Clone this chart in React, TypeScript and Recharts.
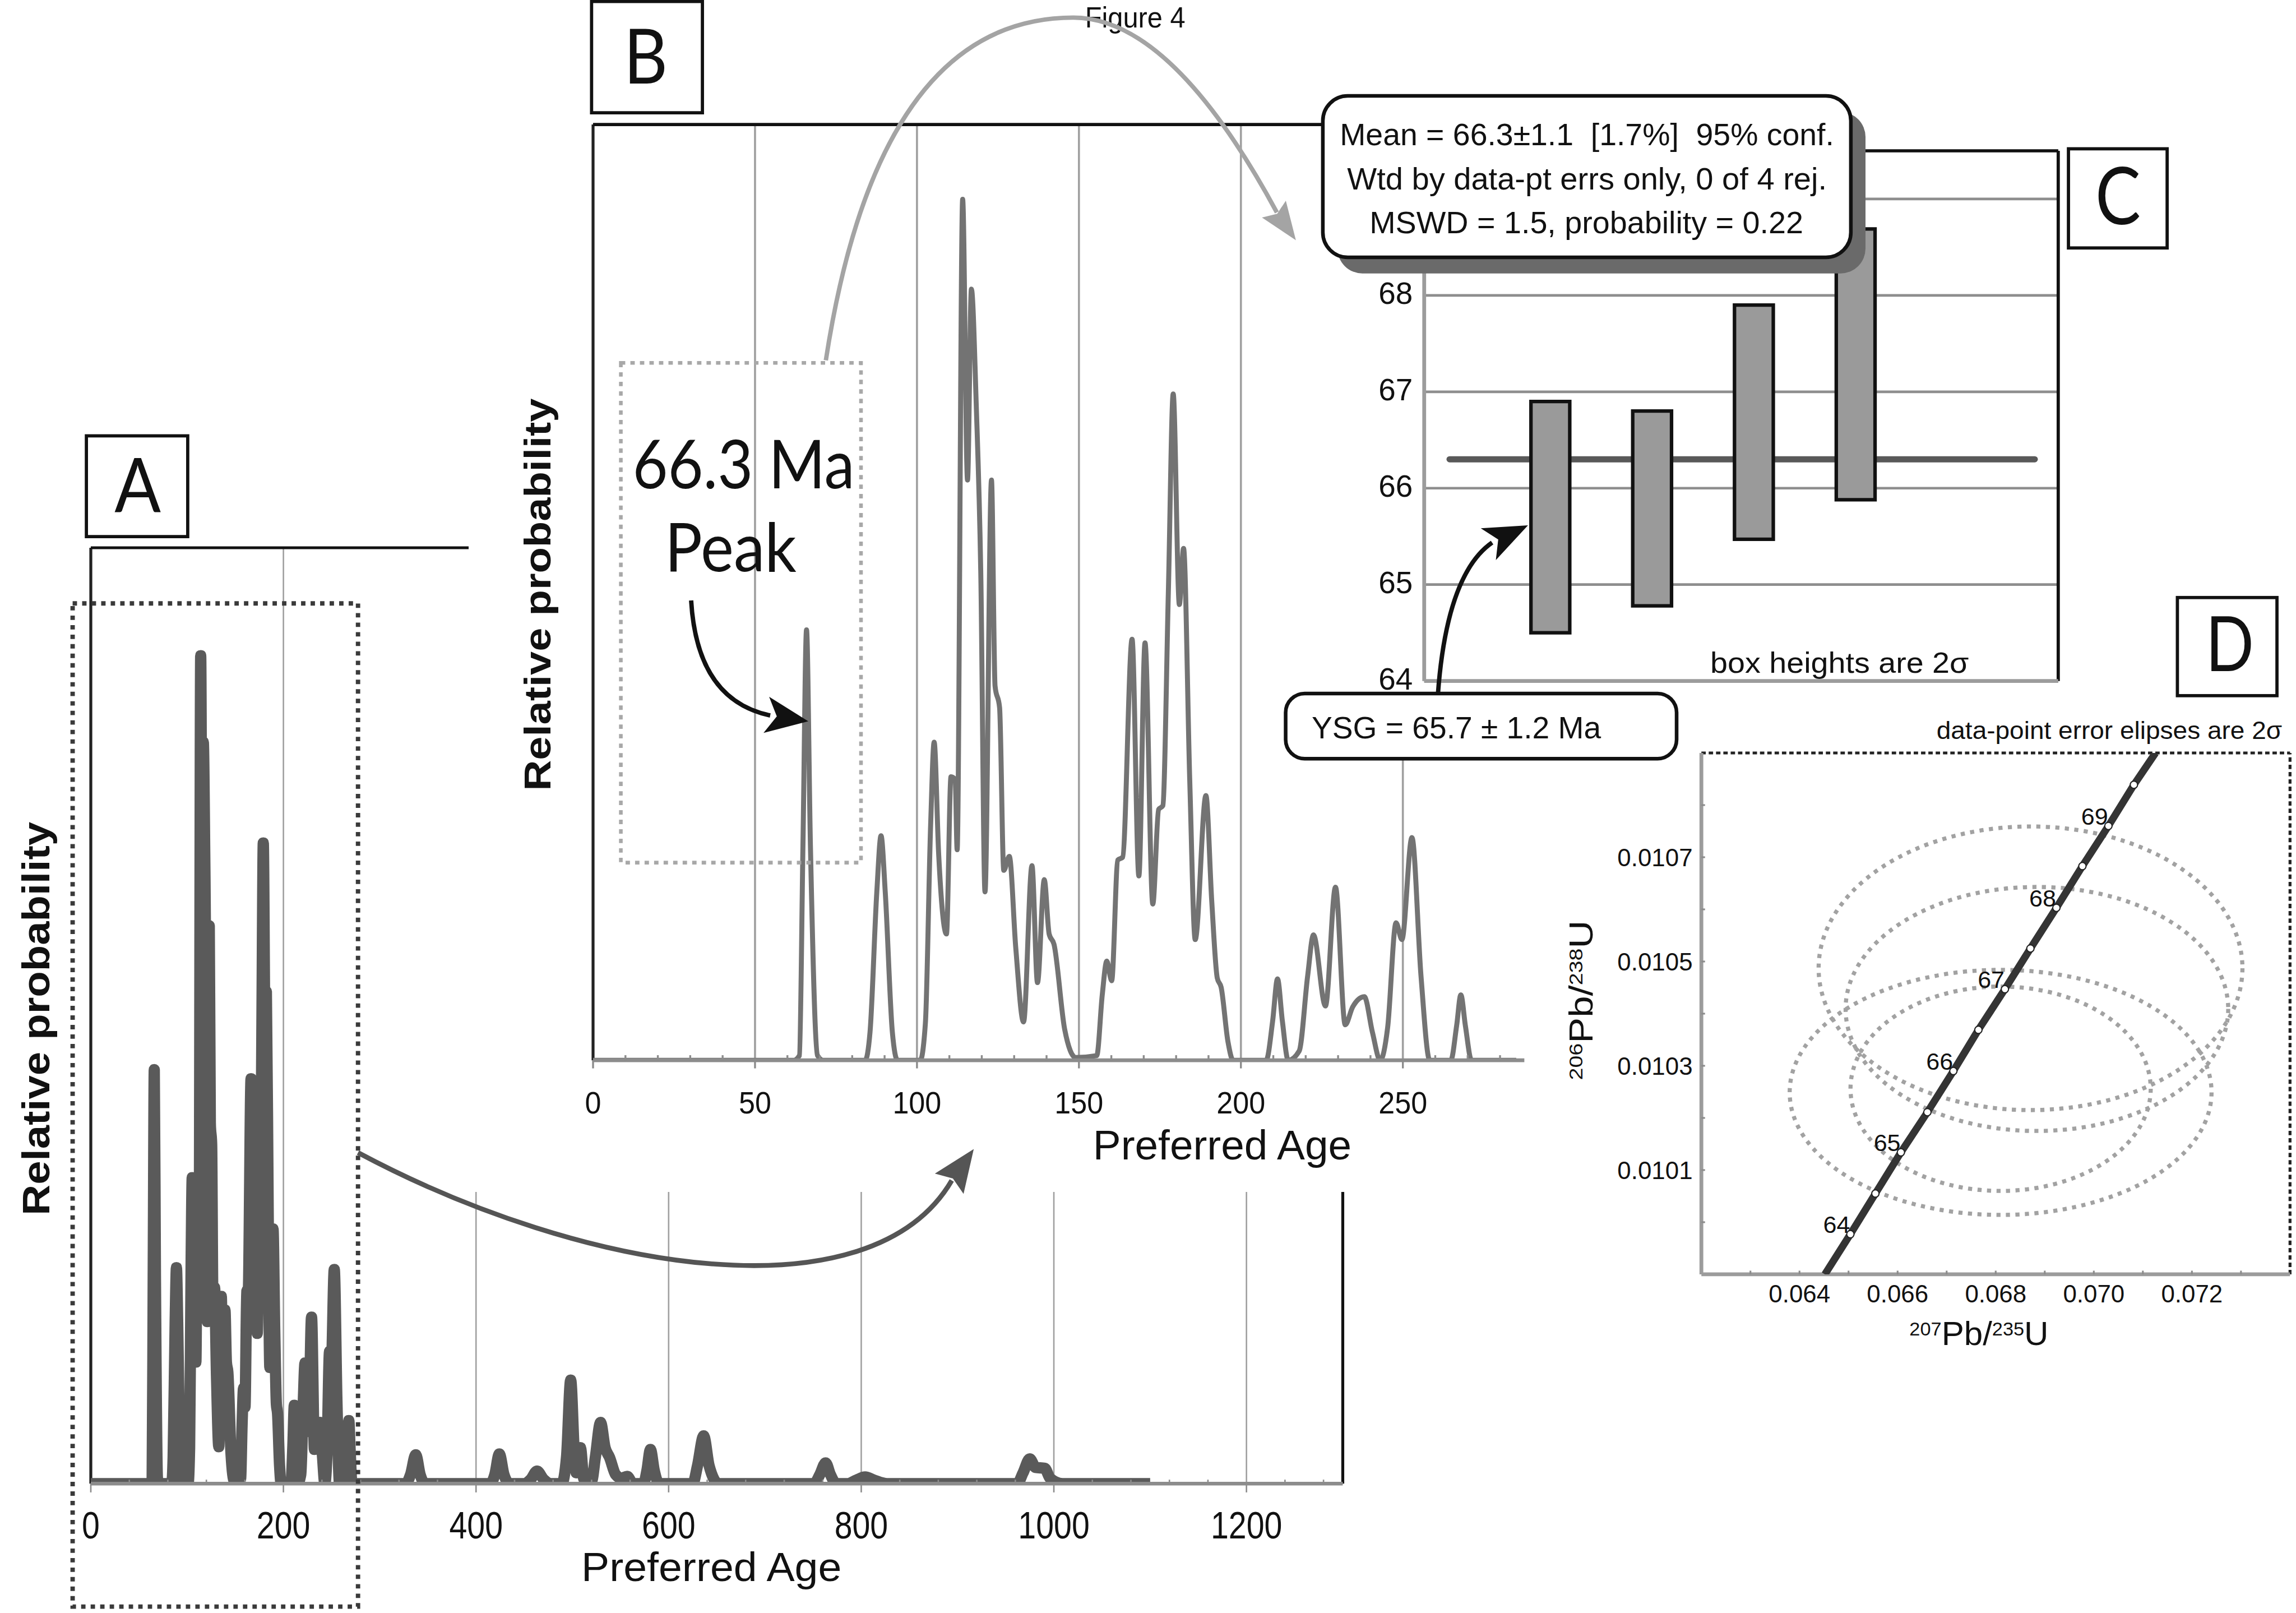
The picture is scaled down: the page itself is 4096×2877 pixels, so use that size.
import React from "react";
import {
  LineChart,
  Line,
  XAxis,
  YAxis,
  ReferenceLine,
  BarChart,
  Bar,
  ComposedChart,
  Scatter,
  CartesianGrid,
} from "recharts";

// layout is measured on the 1568 px wide preview, s() scales it to the window
const S = 4096 / 1568;
const s = (v: number) => v * S;
const SANS = "'Liberation Sans', Arial, Helvetica, sans-serif";
const HUM = "Lato, 'Open Sans', sans-serif";
const AXIS_GRAY = "#8c8c8c";
const GRID_GRAY = "#a0a0a0";

// ---------- data ----------
// probability density, 0-285 Ma (100 = top of panel B)
const youngAge = [
  0, 62, 63.7, 64.8, 65.9, 67.1, 69.3, 71,
  84, 85.5, 87.6, 88.9, 90.2, 92.4, 94,
  101, 102.6, 104.2, 105.3, 106.7, 109.1, 110.5, 111.8, 112.4, 114.1,
  115.6, 116.8, 118.3, 119.7, 121, 123, 124.1, 125.5, 126.8, 128.5,
  130.5, 132.9, 135.5, 137.2, 139.3, 140.8, 142.3, 145.6, 149, 155.5,
  157.2, 158.6, 160.1, 162, 163.5, 166.4, 168.5, 170.4, 172.8, 174.6,
  175.9, 177.6, 179.1, 181, 182.3, 184.2, 185.9, 189.2, 191, 192.7,
  193.9, 196, 197.6, 207.8, 209.8, 211.3, 212.8, 214.6, 218, 220.6,
  222.4, 226.1, 229.2, 232.2, 234.5, 238.1, 240.6, 243, 245.3, 247.9,
  249.7, 252.8, 255.6, 258.3, 264.8, 266.6, 267.9, 269.3, 271.2, 285,
];
const youngProb = [
  0, 0, 0.5, 23, 46, 23, 0.5, 0,
  0, 3, 18, 24, 18, 3, 0,
  0, 4, 25, 34, 22, 13.5, 30.3, 30, 22.5, 92,
  62, 82.4, 70, 52, 18, 62, 40, 37.7, 20.3, 21.8,
  12, 4.1, 20.8, 8.3, 19.3, 13.5, 12.4, 3.3, 0.3, 0.5,
  7, 10.6, 8.5, 21.4, 21.7, 45, 19.7, 44.6, 16.7, 26.8,
  27.2, 50, 71.2, 48.7, 54.7, 30, 12.9, 28.3, 17, 8.8,
  7.8, 2, 0, 0, 4.2, 8.7, 4.2, 0, 1, 9,
  13.4, 5.8, 18.5, 3.8, 5.7, 6.8, 3, 0, 3.5, 14.7,
  12.9, 23.8, 9, 0, 0, 3.7, 7, 3.7, 0, 0,
];
// older tail only shown in panel A
const oldAge = [
  327, 332, 337.4, 342, 347, 415, 419.5, 424.2, 429, 435,
  450, 457, 463.3, 470, 478, 489, 494, 498.3, 502, 504, 508.4, 512,
  520, 524, 529.3, 534, 538.7, 545, 551, 557, 563,
  574, 577.5, 581.1, 585, 590, 625, 630, 636.4, 642, 652,
  751, 757, 763, 768, 774, 786, 795, 804, 813, 827,
  962, 968, 975, 981, 990.6, 996, 1009, 1100,
];
const oldProb = [
  0, 1, 3.2, 1, 0, 0, 1, 3.3, 1, 0,
  0, 0.5, 1.4, 0.5, 0, 0, 3, 11.5, 3.5, 1.2, 4, 0.5,
  0.3, 3, 6.8, 4, 2.9, 1, 0.6, 0.8, 0,
  0, 1.5, 3.8, 1.5, 0, 0, 2, 5.3, 2, 0,
  0, 1, 2.3, 1, 0, 0, 0.4, 0.74, 0.4, 0,
  0, 1.2, 2.75, 1.8, 1.7, 0.6, 0, 0,
];

const aTickLabels = [0, 200, 400, 600, 800, 1000, 1200];
const aTicks = Array.from({ length: 33 }, (_, i) => i * 40);
const bTickLabels = [0, 50, 100, 150, 200, 250];
const bTicks = Array.from({ length: 29 }, (_, i) => i * 10);

// panel C: youngest grains, 2 sigma boxes
const cGrain = ["1", "2", "3", "4"];
const cLow = [64.5, 64.78, 65.47, 65.88];
const cHigh = [66.9, 66.8, 67.9, 68.69];
const cTicks = [64, 65, 66, 67, 68, 69];
const cTickLabels = [64, 65, 66, 67, 68]; // 69 sits under the mean box
const meanAge = 66.3;

// panel D: concordia
const concAge = [64, 64.5, 65, 65.5, 66, 66.5, 67, 67.5, 68, 68.5, 69, 69.5];
const concX = [0.06504, 0.06555, 0.06607, 0.06661, 0.06714, 0.06765, 0.06819, 0.06871, 0.06924, 0.06977, 0.0703, 0.07082];
const concY = [0.009977, 0.010055, 0.010134, 0.010211, 0.01029, 0.010369, 0.010447, 0.010525, 0.010603, 0.010683, 0.01076, 0.010839];
const concEndX = [0.06452, 0.07126];
const concEndY = [0.0099, 0.0109];
const ellX = [0.06871, 0.06884, 0.0681, 0.0681];
const ellY = [0.010487, 0.010409, 0.010249, 0.010256];
const ellRx = [0.00432, 0.0039, 0.0043, 0.00306];
const ellRy = [0.000272, 0.000234, 0.000235, 0.000196];
const dXTicks = [0.063, 0.064, 0.065, 0.066, 0.067, 0.068, 0.069, 0.07, 0.071, 0.072, 0.073];
const dXLabels = [0.064, 0.066, 0.068, 0.07, 0.072];
const dYTicks = [0.01, 0.0101, 0.0102, 0.0103, 0.0104, 0.0105, 0.0106, 0.0107, 0.0108];
const dYLabels = [0.0101, 0.0103, 0.0105, 0.0107];

// ---------- tables ----------
const youngRows = youngAge.map((age, i) => ({ age, prob: youngProb[i] }));
const aData = [...youngRows, ...oldAge.map((age, i) => ({ age, prob: oldProb[i] }))];
const bData = youngRows;
const cTable = cGrain.map((grain, i) => ({ grain, range: [cLow[i], cHigh[i]] }));
const meanSeg = [
  { mx: 0.04, y: meanAge },
  { mx: 0.963, y: meanAge },
];
const concTable = [
  { x: concEndX[0], y: concEndY[0], age: null as number | null },
  ...concAge.map((age, i) => ({ x: concX[i], y: concY[i], age })),
  { x: concEndX[1], y: concEndY[1], age: null as number | null },
];
const ellTable = ellX.map((x, i) => ({ x, y: ellY[i], rx: ellRx[i], ry: ellRy[i] }));

const D_DOM_X: [number, number] = [0.062, 0.074];
const D_DOM_Y: [number, number] = [0.0099, 0.0109];

// ---------- helpers ----------
const P = 40;
function place(px: number, py: number, pw: number, ph: number, axL = 0, axB = 0) {
  return {
    style: { position: "absolute" as const, left: s(px) - axL - P, top: s(py) - P },
    width: s(pw) + axL + 2 * P,
    height: s(ph) + axB + 2 * P,
    margin: { top: P, right: P, bottom: P, left: P },
  };
}

const near = (list: number[], v: number) => list.some((l) => Math.abs(l - v) < 1e-7);

const aTick = (p: any) => {
  const v = p.payload.value;
  const { x, y } = p;
  if (aTickLabels.includes(v)) {
    return (
      <g>
        <line x1={x} x2={x} y1={y} y2={y + s(6)} stroke={AXIS_GRAY} strokeWidth={s(1)} />
        <text x={x} y={y + s(37.5)} textAnchor="middle" fontSize={s(26)} fontFamily={SANS} fill="#111"
          textLength={s(12.2 * String(v).length)} lengthAdjust="spacingAndGlyphs">{v}</text>
      </g>
    );
  }
  return <line x1={x} x2={x} y1={y} y2={y - s(2.7)} stroke={AXIS_GRAY} strokeWidth={s(1)} />;
};

const bTick = (p: any) => {
  const v = p.payload.value;
  const { x, y } = p;
  if (bTickLabels.includes(v)) {
    return (
      <g>
        <line x1={x} x2={x} y1={y} y2={y + s(5.5)} stroke={AXIS_GRAY} strokeWidth={s(1.3)} />
        <text x={x} y={y + s(36.3)} textAnchor="middle" fontSize={s(21.6)} fontFamily={SANS} fill="#111"
          textLength={s(11.1 * String(v).length)} lengthAdjust="spacingAndGlyphs">{v}</text>
      </g>
    );
  }
  return <line x1={x} x2={x} y1={y} y2={y - s(3.5)} stroke={AXIS_GRAY} strokeWidth={s(1.3)} />;
};

const cTick = (p: any) =>
  cTickLabels.includes(p.payload.value) ? (
    <text x={p.x - s(7.8)} y={p.y + s(5.9)} textAnchor="end" fontSize={s(21)} fontFamily={SANS} fill="#111">
      {p.payload.value}
    </text>
  ) : (
    <g />
  );

const dXTick = (p: any) => {
  const v = p.payload.value;
  return (
    <g>
      <line x1={p.x} x2={p.x} y1={p.y} y2={p.y - s(2.5)} stroke={AXIS_GRAY} strokeWidth={s(1.2)} />
      {near(dXLabels, v) && (
        <text x={p.x} y={p.y + s(19)} textAnchor="middle" fontSize={s(16.8)} fontFamily={SANS} fill="#111">
          {v.toFixed(3)}
        </text>
      )}
    </g>
  );
};

const dYTick = (p: any) => {
  const v = p.payload.value;
  return (
    <g>
      <line x1={p.x} x2={p.x + s(2.5)} y1={p.y} y2={p.y} stroke={AXIS_GRAY} strokeWidth={s(1.2)} />
      {near(dYLabels, v) && (
        <text x={p.x - s(6)} y={p.y + s(6)} textAnchor="end" fontSize={s(16.8)} fontFamily={SANS} fill="#111">
          {v.toFixed(4)}
        </text>
      )}
    </g>
  );
};

// px per data unit inside panel D's plot
const D_PX_X = s(402) / (D_DOM_X[1] - D_DOM_X[0]);
const D_PX_Y = s(356) / (D_DOM_Y[1] - D_DOM_Y[0]);

const EllipseShape = (p: any) => (
  <ellipse
    cx={p.cx}
    cy={p.cy}
    rx={p.payload.rx * D_PX_X}
    ry={p.payload.ry * D_PX_Y}
    fill="none"
    stroke="#a2a2a2"
    strokeWidth={s(2.8)}
    strokeDasharray={`${s(2.8)} ${s(3.7)}`}
  />
);

const concDot = (p: any) => {
  const { cx, cy, payload, index } = p;
  if (payload.age == null) return <g key={`cd${index}`} />;
  return (
    <g key={`cd${index}`}>
      <circle cx={cx} cy={cy} r={s(2.5)} fill="#fff" stroke="#222" strokeWidth={s(0.8)} />
      {Number.isInteger(payload.age) && (
        <text x={cx - s(9.4)} y={cy - s(0.9)} textAnchor="middle" fontSize={s(16.5)} fontFamily={SANS} fill="#111">
          {payload.age}
        </text>
      )}
    </g>
  );
};

function head(tx: number, ty: number, deg: number, len: number, hw: number, notch = 0.2) {
  const a = (deg * Math.PI) / 180;
  const ux = Math.cos(a), uy = Math.sin(a);
  const nx = -uy, ny = ux;
  const bx = tx - len * ux, by = ty - len * uy;
  const mx = bx + notch * len * ux, my = by + notch * len * uy;
  return `M${s(tx)},${s(ty)} L${s(bx + hw * nx)},${s(by + hw * ny)} L${s(mx)},${s(my)} L${s(bx - hw * nx)},${s(by - hw * ny)} Z`;
}

const pth = (d: string) =>
  d.replace(/-?\d+(\.\d+)?/g, (m) => String(s(parseFloat(m))));

function Txt(props: {
  x: number; y: number; size: number; len?: number; children: React.ReactNode;
  anchor?: "start" | "middle" | "end"; family?: string; weight?: string | number; fill?: string;
}) {
  const { x, y, size, len, children, anchor = "start", family = SANS, weight = "normal", fill = "#111" } = props;
  return (
    <text x={s(x)} y={s(y)} fontSize={s(size)} fontFamily={family} fontWeight={weight} textAnchor={anchor}
      fill={fill} textLength={len ? s(len) : undefined} lengthAdjust={len ? "spacingAndGlyphs" : undefined}
      style={{ whiteSpace: "pre" }}>
      {children}
    </text>
  );
}

function LetterBox(props: { x0: number; y0: number; x1: number; y1: number; letter: string; cx: number; base: number; size: number; len: number }) {
  const { x0, y0, x1, y1, letter, cx, base, size, len } = props;
  return (
    <g>
      <rect x={s(x0)} y={s(y0)} width={s(x1 - x0)} height={s(y1 - y0)} fill="#fff" stroke="#111" strokeWidth={s(2.2)} />
      <Txt x={cx} y={base} size={size} len={len} anchor="middle" family={HUM}>{letter}</Txt>
    </g>
  );
}

export default function App() {
  const a = place(62, 374, 855, 639, 0, s(60));
  const b = place(405, 85, 636, 639, 0, s(60));
  const cU = place(972.5, 103, 433, 362, s(60), 0);
  const cO = place(972.5, 103, 433, 362, 0, 0);
  const dU = place(1162, 514, 402, 356, s(100), s(60));
  const dO = place(1162, 514, 402, 356, 0, 0);

  return (
    <div style={{ position: "absolute", left: 0, top: 0, width: 4096, height: 2877, overflow: "hidden", background: "#fff" }}>
      {/* Panel A */}
      <div style={a.style}>
        <LineChart width={a.width} height={a.height} data={aData} margin={a.margin}>
          <XAxis type="number" dataKey="age" domain={[0, 1300]} ticks={aTicks} interval={0} allowDataOverflow
            tick={aTick} tickLine={false} tickSize={0} tickMargin={0} height={s(60)}
            axisLine={{ stroke: AXIS_GRAY, strokeWidth: s(2.5) }} />
          <YAxis hide type="number" domain={[0, 104]} allowDataOverflow />
          {aTickLabels.filter((v) => v > 0).map((v) => (
            <ReferenceLine key={v} x={v} stroke={GRID_GRAY} strokeWidth={s(1)} />
          ))}
          <ReferenceLine x={0} stroke="#222" strokeWidth={s(2)} />
          <ReferenceLine x={1300} stroke="#111" strokeWidth={s(2)} />
          <ReferenceLine y={104} stroke="#111" strokeWidth={s(2)} />
          <Line type="monotone" dataKey="prob" stroke="#5a5a5a" strokeWidth={s(7.7)} strokeLinejoin="round"
            dot={false} activeDot={false} isAnimationActive={false} />
        </LineChart>
      </div>

      {/* Panel B */}
      <div style={{ position: "absolute", left: s(320), top: 0, width: s(725), height: s(814), background: "#fff" }} />
      <div style={b.style}>
        <LineChart width={b.width} height={b.height} data={bData} margin={b.margin}>
          <XAxis type="number" dataKey="age" domain={[0, 287.5]} ticks={bTicks} interval={0} allowDataOverflow
            tick={bTick} tickLine={false} tickSize={0} tickMargin={0} height={s(60)}
            axisLine={{ stroke: AXIS_GRAY, strokeWidth: s(2.6) }} />
          <YAxis hide type="number" domain={[0, 100]} allowDataOverflow />
          {bTickLabels.filter((v) => v > 0).map((v) => (
            <ReferenceLine key={v} x={v} stroke={GRID_GRAY} strokeWidth={s(1.4)} />
          ))}
          <ReferenceLine x={0} stroke="#222" strokeWidth={s(2)} />
          <ReferenceLine y={100} stroke="#111" strokeWidth={s(2.2)} />
          <Line type="monotone" dataKey="prob" stroke="#737373" strokeWidth={s(3.4)} strokeLinejoin="round"
            dot={false} activeDot={false} isAnimationActive={false} />
        </LineChart>
      </div>

      {/* Panel C */}
      <div style={{ position: "absolute", left: s(925), top: s(90), width: s(485), height: s(385), background: "#fff" }} />
      <div style={cU.style}>
        <ComposedChart width={cU.width} height={cU.height} data={meanSeg} margin={cU.margin}>
          <CartesianGrid horizontal vertical={false} stroke="#8e8e8e" strokeWidth={s(1.8)} />
          <XAxis hide type="number" dataKey="mx" domain={[0, 1]} allowDataOverflow />
          <YAxis type="number" domain={[64, 69.5]} ticks={cTicks} interval={0} allowDataOverflow width={s(60)}
            tick={cTick} tickLine={false} tickSize={0} tickMargin={0}
            axisLine={{ stroke: "#9c9c9c", strokeWidth: s(2.6) }} />
          <ReferenceLine y={69.5} stroke="#111" strokeWidth={s(2.2)} />
          <ReferenceLine x={1} stroke="#111" strokeWidth={s(2.2)} />
          <ReferenceLine y={64} stroke="#9c9c9c" strokeWidth={s(2.6)} />
          <Line type="linear" dataKey="y" stroke="#595959" strokeWidth={s(4.2)} strokeLinecap="round"
            dot={false} activeDot={false} isAnimationActive={false} />
        </ComposedChart>
      </div>
      <div style={cO.style}>
        <BarChart width={cO.width} height={cO.height} data={cTable} margin={cO.margin}>
          <XAxis hide type="category" dataKey="grain" padding={{ left: s(51.75), right: s(103.25) }} />
          <YAxis hide type="number" domain={[64, 69.5]} allowDataOverflow />
          <Bar dataKey="range" fill="#9a9a9a" stroke="#111" strokeWidth={s(2.4)} barSize={s(26.5)}
            isAnimationActive={false} />
        </BarChart>
      </div>

      {/* Panel D */}
      <div style={dU.style}>
        <ComposedChart width={dU.width} height={dU.height} data={ellTable} margin={dU.margin}>
          <XAxis type="number" dataKey="x" domain={D_DOM_X} ticks={dXTicks} interval={0} allowDataOverflow
            tick={dXTick} tickLine={false} tickSize={0} tickMargin={0} height={s(60)}
            axisLine={{ stroke: "#9c9c9c", strokeWidth: s(2.6) }} />
          <YAxis type="number" dataKey="y" domain={D_DOM_Y} ticks={dYTicks} interval={0} allowDataOverflow
            width={s(100)} tick={dYTick} tickLine={false} tickSize={0} tickMargin={0}
            axisLine={{ stroke: "#9c9c9c", strokeWidth: s(2.6) }} />
          <ReferenceLine y={D_DOM_Y[1]} stroke="#222" strokeWidth={s(2)} strokeDasharray={`${s(3)} ${s(2)}`} />
          <ReferenceLine x={D_DOM_X[1]} stroke="#222" strokeWidth={s(2)} strokeDasharray={`${s(3)} ${s(2)}`} />
          <Scatter dataKey="y" shape={EllipseShape} isAnimationActive={false} />
        </ComposedChart>
      </div>
      <div style={dO.style}>
        <LineChart width={dO.width} height={dO.height} data={concTable} margin={dO.margin}>
          <XAxis hide type="number" dataKey="x" domain={D_DOM_X} allowDataOverflow />
          <YAxis hide type="number" domain={D_DOM_Y} allowDataOverflow />
          <Line type="linear" dataKey="y" stroke="#343434" strokeWidth={s(5)} dot={concDot} activeDot={false}
            isAnimationActive={false} />
        </LineChart>
      </div>

      {/* annotations */}
      <svg width={4096} height={2877} style={{ position: "absolute", left: 0, top: 0 }}>
        {/* A */}
        <LetterBox x0={59} y0={297.6} x1={128.2} y1={366.4} letter="A" cx={94} base={349.6} size={51} len={31.7} />
        <text transform={`translate(${s(33.8)},${s(695.5)}) rotate(-90)`} textAnchor="middle" fontSize={s(26)}
          fontFamily={SANS} fontWeight="bold" fill="#111" textLength={s(268.6)} lengthAdjust="spacingAndGlyphs">
          Relative probability
        </text>
        <Txt x={397} y={1079.5} size={27.8} len={177.7}>Preferred Age</Txt>
        <rect x={s(49.6)} y={s(412)} width={s(194.9)} height={s(685)} fill="none" stroke="#3a3a3a"
          strokeWidth={s(3)} strokeDasharray={`${s(3)} ${s(3.5)}`} />

        {/* B */}
        <LetterBox x0={404} y0={1} x1={479.7} y1={77} letter="B" cx={441} base={57} size={52} len={30} />
        <Txt x={741} y={18.7} size={19.5} len={68.5}>Figure 4</Txt>
        <path d={pth("M564,246 Q600,12 733,12 Q800,12 872,145")} fill="none" stroke="#a4a4a4" strokeWidth={s(3)} />
        <path d={head(885, 164, 54.7, 26, 10, 0.15)} fill="#a4a4a4" />
        <text transform={`translate(${s(376)},${s(406)}) rotate(-90)`} textAnchor="middle" fontSize={s(25.3)}
          fontFamily={SANS} fontWeight="bold" fill="#111" textLength={s(268)} lengthAdjust="spacingAndGlyphs">
          Relative probability
        </text>
        <Txt x={746.4} y={791.5} size={28.3} len={176.6}>Preferred Age</Txt>
        <rect x={s(424)} y={s(247.8)} width={s(164)} height={s(341.2)} fill="none" stroke="#a8a8a8"
          strokeWidth={s(2.5)} strokeDasharray={`${s(3)} ${s(3.5)}`} />
        <Txt x={432} y={333.4} size={46} len={151.6} family={HUM}>66.3 Ma</Txt>
        <Txt x={454} y={390} size={46} len={90} family={HUM}>Peak</Txt>
        <path d={pth("M472,410 Q476,478 526,488.5")} fill="none" stroke="#111" strokeWidth={s(3)} />
        <path d={head(552, 492.5, 8.8, 29, 12.5, 0.25)} fill="#111" />

        {/* C */}
        <rect x={s(913.4)} y={s(76.5)} width={s(360.6)} height={s(110.2)} rx={s(17)} fill="#6a6a6a" />
        <rect x={s(903.4)} y={s(65.5)} width={s(360.6)} height={s(110.2)} rx={s(17)} fill="#fff" stroke="#111"
          strokeWidth={s(2.5)} />
        <Txt x={915} y={99.3} size={21} len={337.5}>{"Mean = 66.3±1.1  [1.7%]  95% conf."}</Txt>
        <Txt x={920} y={129.2} size={21} len={327.6}>Wtd by data-pt errs only, 0 of 4 rej.</Txt>
        <Txt x={935.3} y={159.2} size={21} len={296.2}>MSWD = 1.5, probability = 0.22</Txt>
        <LetterBox x0={1412.6} y0={101.6} x1={1480} y1={169.3} letter="C" cx={1446.5} base={153} size={54} len={31} />
        <Txt x={1168} y={459.4} size={20} len={176.6}>box heights are 2σ</Txt>
        <rect x={s(878)} y={s(473.5)} width={s(267)} height={s(44.5)} rx={s(13)} fill="#fff" stroke="#111"
          strokeWidth={s(2.5)} />
        <Txt x={895.8} y={504} size={21} len={197.6}>YSG = 65.7 ± 1.2 Ma</Txt>
        <path d={pth("M982,474 Q988,392 1019,370.5")} fill="none" stroke="#111" strokeWidth={s(3)} />
        <path d={head(1043.5, 358.7, -25.4, 30, 12, 0.25)} fill="#111" />

        {/* D */}
        <LetterBox x0={1487} y0={408} x1={1555} y1={475} letter="D" cx={1522.8} base={458.4} size={52} len={33} />
        <Txt x={1322.5} y={504.5} size={17} len={236}>data-point error elipses are 2σ</Txt>
        <text x={s(1304)} y={s(918.5)} fontFamily={SANS} fill="#111" textLength={s(95)} lengthAdjust="spacingAndGlyphs">
          <tspan fontSize={s(12.8)} dy={-s(6.8)}>207</tspan>
          <tspan fontSize={s(22.4)} dy={s(6.8)}>Pb/</tspan>
          <tspan fontSize={s(12.8)} dy={-s(6.8)}>235</tspan>
          <tspan fontSize={s(22.4)} dy={s(6.8)}>U</tspan>
        </text>
        <text transform={`translate(${s(1087.5)},${s(683)}) rotate(-90)`} textAnchor="middle" fontFamily={SANS}
          fill="#111" textLength={s(109)} lengthAdjust="spacingAndGlyphs">
          <tspan fontSize={s(12.8)} dy={-s(6.8)}>206</tspan>
          <tspan fontSize={s(22.4)} dy={s(6.8)}>Pb/</tspan>
          <tspan fontSize={s(12.8)} dy={-s(6.8)}>238</tspan>
          <tspan fontSize={s(22.4)} dy={s(6.8)}>U</tspan>
        </text>

        {/* A -> B arrow */}
        <path d={pth("M244.5,787 C400,870 595,900 650,806")} fill="none" stroke="#555" strokeWidth={s(3.3)} />
        <path d={head(665, 784.6, -54.7, 29, 12, 0.15)} fill="#555" />
      </svg>
    </div>
  );
}
